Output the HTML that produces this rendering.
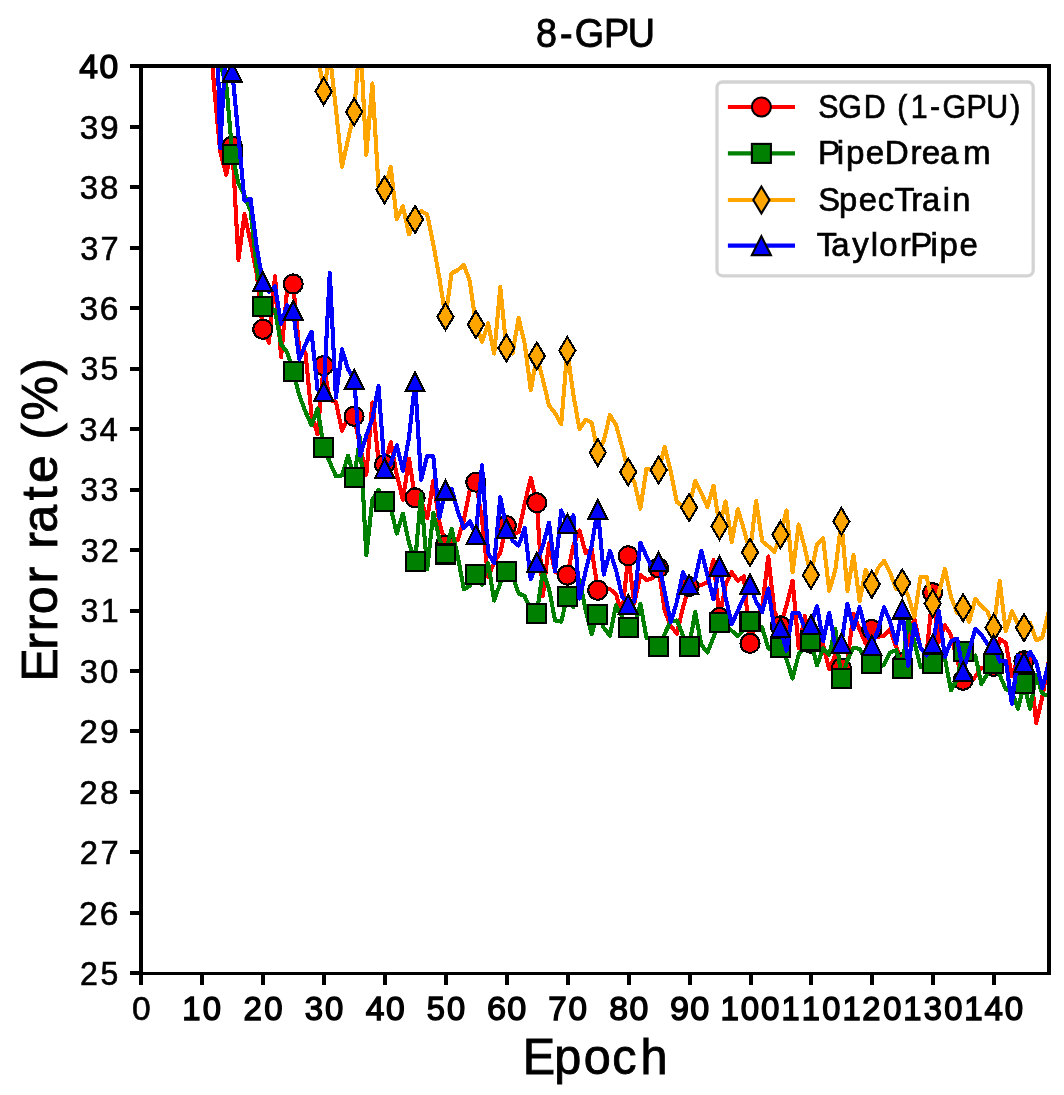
<!DOCTYPE html>
<html><head><meta charset="utf-8"><title>8-GPU</title>
<style>html,body{margin:0;padding:0;background:#fff}svg{display:block;will-change:transform}</style></head>
<body>
<svg width="1064" height="1095" viewBox="0 0 1064 1095">
<rect width="1064" height="1095" fill="#fff"/>
<defs><clipPath id="ax"><rect x="141.1" y="66.3" width="907.9" height="907.0"/></clipPath></defs>
<g clip-path="url(#ax)" shape-rendering="crispEdges">
<polyline points="208.0,5.6 214.1,86.5 220.2,151.8 226.3,174.7 232.3,146.3 238.4,259.9 244.5,214.0 250.6,242.4 256.7,273.2 262.8,329.3 268.9,342.6 275.0,276.2 281.1,357.1 287.2,288.3 293.2,284.0 299.3,350.5 305.4,352.3 311.5,414.5 317.6,434.4 323.7,365.6 329.8,400.0 335.9,401.8 342.0,430.8 348.1,418.1 354.1,416.3 360.2,447.1 366.3,474.9 372.4,402.4 378.5,460.4 384.6,464.6 390.7,442.3 396.8,474.9 402.9,499.7 409.0,458.6 415.1,497.9 421.1,499.7 427.2,518.4 433.3,480.9 439.4,522.0 445.5,545.0 451.6,541.3 457.7,540.1 463.8,520.2 469.9,490.0 475.9,482.2 482.0,519.0 488.1,577.0 494.2,562.5 500.3,552.8 506.4,525.6 512.5,534.1 518.6,532.3 524.7,503.9 530.8,477.9 536.8,502.7 542.9,596.3 549.0,543.2 555.1,571.5 561.2,575.2 567.3,575.2 573.4,545.6 579.5,530.5 585.6,552.8 591.7,549.2 597.8,590.3 603.8,590.3 609.9,589.1 616.0,593.9 622.1,615.6 628.2,555.8 634.3,603.6 640.4,574.6 646.5,580.0 652.6,578.2 658.6,567.9 664.7,610.8 670.8,625.9 676.9,633.8 683.0,607.2 689.1,586.6 695.2,587.3 701.3,584.8 707.4,582.4 713.5,560.1 719.5,617.5 725.6,584.8 731.7,572.2 737.8,580.6 743.9,576.4 750.0,643.4 756.1,620.5 762.2,607.2 768.3,556.4 774.4,610.8 780.4,625.9 786.5,605.4 792.6,580.6 798.7,648.3 804.8,616.2 810.9,643.4 817.0,642.8 823.1,644.6 829.2,669.4 835.3,654.9 841.4,668.2 847.4,660.3 853.5,613.8 859.6,629.5 865.7,643.4 871.8,629.5 877.9,636.8 884.0,635.6 890.1,629.5 896.2,647.0 902.2,662.8 908.3,639.8 914.4,618.7 920.5,647.7 926.6,653.7 932.7,592.7 938.8,642.2 944.9,625.3 951.0,635.0 957.1,659.7 963.1,680.3 969.2,684.5 975.3,676.6 981.4,667.6 987.5,667.6 993.6,666.4 999.7,639.2 1005.8,642.8 1011.9,676.0 1018.0,657.9 1024.0,660.9 1030.1,664.0 1036.2,723.2 1042.3,697.2 1048.4,662.1" fill="none" stroke="#ff0000" stroke-width="4.1" stroke-linejoin="round" stroke-linecap="butt"/>
<circle cx="232.3" cy="146.3" r="9.50" fill="#ff0000" stroke="#000" stroke-width="2.1"/>
<circle cx="262.8" cy="329.3" r="9.50" fill="#ff0000" stroke="#000" stroke-width="2.1"/>
<circle cx="293.2" cy="284.0" r="9.50" fill="#ff0000" stroke="#000" stroke-width="2.1"/>
<circle cx="323.7" cy="365.6" r="9.50" fill="#ff0000" stroke="#000" stroke-width="2.1"/>
<circle cx="354.1" cy="416.3" r="9.50" fill="#ff0000" stroke="#000" stroke-width="2.1"/>
<circle cx="384.6" cy="464.6" r="9.50" fill="#ff0000" stroke="#000" stroke-width="2.1"/>
<circle cx="415.1" cy="497.9" r="9.50" fill="#ff0000" stroke="#000" stroke-width="2.1"/>
<circle cx="445.5" cy="545.0" r="9.50" fill="#ff0000" stroke="#000" stroke-width="2.1"/>
<circle cx="475.9" cy="482.2" r="9.50" fill="#ff0000" stroke="#000" stroke-width="2.1"/>
<circle cx="506.4" cy="525.6" r="9.50" fill="#ff0000" stroke="#000" stroke-width="2.1"/>
<circle cx="536.8" cy="502.7" r="9.50" fill="#ff0000" stroke="#000" stroke-width="2.1"/>
<circle cx="567.3" cy="575.2" r="9.50" fill="#ff0000" stroke="#000" stroke-width="2.1"/>
<circle cx="597.8" cy="590.3" r="9.50" fill="#ff0000" stroke="#000" stroke-width="2.1"/>
<circle cx="628.2" cy="555.8" r="9.50" fill="#ff0000" stroke="#000" stroke-width="2.1"/>
<circle cx="658.6" cy="567.9" r="9.50" fill="#ff0000" stroke="#000" stroke-width="2.1"/>
<circle cx="689.1" cy="586.6" r="9.50" fill="#ff0000" stroke="#000" stroke-width="2.1"/>
<circle cx="719.5" cy="617.5" r="9.50" fill="#ff0000" stroke="#000" stroke-width="2.1"/>
<circle cx="750.0" cy="643.4" r="9.50" fill="#ff0000" stroke="#000" stroke-width="2.1"/>
<circle cx="780.4" cy="625.9" r="9.50" fill="#ff0000" stroke="#000" stroke-width="2.1"/>
<circle cx="810.9" cy="643.4" r="9.50" fill="#ff0000" stroke="#000" stroke-width="2.1"/>
<circle cx="841.4" cy="668.2" r="9.50" fill="#ff0000" stroke="#000" stroke-width="2.1"/>
<circle cx="871.8" cy="629.5" r="9.50" fill="#ff0000" stroke="#000" stroke-width="2.1"/>
<circle cx="902.2" cy="662.8" r="9.50" fill="#ff0000" stroke="#000" stroke-width="2.1"/>
<circle cx="932.7" cy="592.7" r="9.50" fill="#ff0000" stroke="#000" stroke-width="2.1"/>
<circle cx="963.1" cy="680.3" r="9.50" fill="#ff0000" stroke="#000" stroke-width="2.1"/>
<circle cx="993.6" cy="666.4" r="9.50" fill="#ff0000" stroke="#000" stroke-width="2.1"/>
<circle cx="1024.0" cy="660.9" r="9.50" fill="#ff0000" stroke="#000" stroke-width="2.1"/>
<polyline points="214.1,-54.8 220.2,64.2 226.3,84.7 232.3,154.2 238.4,183.2 244.5,195.3 250.6,211.0 256.7,267.7 262.8,306.4 268.9,307.6 275.0,310.0 281.1,344.4 287.2,352.3 293.2,371.6 299.3,395.2 305.4,411.5 311.5,425.4 317.6,408.5 323.7,447.1 329.8,462.2 335.9,476.1 342.0,475.5 348.1,455.6 354.1,477.9 360.2,437.5 366.3,555.2 372.4,499.7 378.5,490.0 384.6,501.5 390.7,508.1 396.8,533.5 402.9,513.6 409.0,543.2 415.1,561.9 421.1,494.2 427.2,569.1 433.3,513.0 439.4,538.9 445.5,554.0 451.6,528.7 457.7,555.8 463.8,589.1 469.9,586.0 475.9,574.6 482.0,584.8 488.1,563.1 494.2,600.5 500.3,583.0 506.4,571.5 512.5,575.2 518.6,593.3 524.7,596.3 530.8,609.6 536.8,613.2 542.9,571.5 549.0,588.5 555.1,620.5 561.2,621.7 567.3,596.3 573.4,607.2 579.5,579.4 585.6,609.6 591.7,633.8 597.8,614.4 603.8,627.7 609.9,635.6 616.0,605.4 622.1,616.8 628.2,627.7 634.3,629.5 640.4,603.6 646.5,638.0 652.6,639.2 658.6,646.4 664.7,633.8 670.8,621.1 676.9,620.5 683.0,635.6 689.1,646.4 695.2,612.0 701.3,644.6 707.4,652.5 713.5,637.4 719.5,622.3 725.6,625.9 731.7,630.7 737.8,636.2 743.9,630.1 750.0,621.1 756.1,624.1 762.2,627.7 768.3,648.3 774.4,650.7 780.4,647.7 786.5,659.7 792.6,678.5 798.7,654.3 804.8,646.4 810.9,641.0 817.0,665.2 823.1,648.3 829.2,654.9 835.3,628.9 841.4,678.5 847.4,660.3 853.5,647.7 859.6,648.9 865.7,660.3 871.8,663.4 877.9,668.2 884.0,664.6 890.1,652.5 896.2,650.1 902.2,668.2 908.3,618.7 914.4,642.2 920.5,667.0 926.6,668.8 932.7,663.4 938.8,657.9 944.9,658.5 951.0,690.5 957.1,679.1 963.1,651.3 969.2,657.9 975.3,655.5 981.4,683.9 987.5,673.6 993.6,663.4 999.7,674.8 1005.8,689.3 1011.9,691.7 1018.0,708.7 1024.0,683.9 1030.1,708.7 1036.2,674.8 1042.3,693.6 1048.4,696.0" fill="none" stroke="#008000" stroke-width="4.1" stroke-linejoin="round" stroke-linecap="butt"/>
<rect x="222.8" y="144.7" width="19.0" height="19.0" fill="#008000" stroke="#000" stroke-width="2.1"/>
<rect x="253.3" y="296.9" width="19.0" height="19.0" fill="#008000" stroke="#000" stroke-width="2.1"/>
<rect x="283.8" y="362.1" width="19.0" height="19.0" fill="#008000" stroke="#000" stroke-width="2.1"/>
<rect x="314.2" y="437.6" width="19.0" height="19.0" fill="#008000" stroke="#000" stroke-width="2.1"/>
<rect x="344.6" y="468.4" width="19.0" height="19.0" fill="#008000" stroke="#000" stroke-width="2.1"/>
<rect x="375.1" y="492.0" width="19.0" height="19.0" fill="#008000" stroke="#000" stroke-width="2.1"/>
<rect x="405.6" y="552.4" width="19.0" height="19.0" fill="#008000" stroke="#000" stroke-width="2.1"/>
<rect x="436.0" y="544.5" width="19.0" height="19.0" fill="#008000" stroke="#000" stroke-width="2.1"/>
<rect x="466.4" y="565.1" width="19.0" height="19.0" fill="#008000" stroke="#000" stroke-width="2.1"/>
<rect x="496.9" y="562.0" width="19.0" height="19.0" fill="#008000" stroke="#000" stroke-width="2.1"/>
<rect x="527.3" y="603.7" width="19.0" height="19.0" fill="#008000" stroke="#000" stroke-width="2.1"/>
<rect x="557.8" y="586.8" width="19.0" height="19.0" fill="#008000" stroke="#000" stroke-width="2.1"/>
<rect x="588.2" y="604.9" width="19.0" height="19.0" fill="#008000" stroke="#000" stroke-width="2.1"/>
<rect x="618.7" y="618.2" width="19.0" height="19.0" fill="#008000" stroke="#000" stroke-width="2.1"/>
<rect x="649.1" y="636.9" width="19.0" height="19.0" fill="#008000" stroke="#000" stroke-width="2.1"/>
<rect x="679.6" y="636.9" width="19.0" height="19.0" fill="#008000" stroke="#000" stroke-width="2.1"/>
<rect x="710.0" y="612.8" width="19.0" height="19.0" fill="#008000" stroke="#000" stroke-width="2.1"/>
<rect x="740.5" y="611.6" width="19.0" height="19.0" fill="#008000" stroke="#000" stroke-width="2.1"/>
<rect x="770.9" y="638.2" width="19.0" height="19.0" fill="#008000" stroke="#000" stroke-width="2.1"/>
<rect x="801.4" y="631.5" width="19.0" height="19.0" fill="#008000" stroke="#000" stroke-width="2.1"/>
<rect x="831.9" y="669.0" width="19.0" height="19.0" fill="#008000" stroke="#000" stroke-width="2.1"/>
<rect x="862.3" y="653.9" width="19.0" height="19.0" fill="#008000" stroke="#000" stroke-width="2.1"/>
<rect x="892.8" y="658.7" width="19.0" height="19.0" fill="#008000" stroke="#000" stroke-width="2.1"/>
<rect x="923.2" y="653.9" width="19.0" height="19.0" fill="#008000" stroke="#000" stroke-width="2.1"/>
<rect x="953.6" y="641.8" width="19.0" height="19.0" fill="#008000" stroke="#000" stroke-width="2.1"/>
<rect x="984.1" y="653.9" width="19.0" height="19.0" fill="#008000" stroke="#000" stroke-width="2.1"/>
<rect x="1014.5" y="674.4" width="19.0" height="19.0" fill="#008000" stroke="#000" stroke-width="2.1"/>
<polyline points="317.6,53.9 323.7,91.4 329.8,53.9 335.9,108.9 342.0,166.9 348.1,139.1 354.1,111.9 360.2,35.8 366.3,154.8 372.4,83.5 378.5,186.8 384.6,189.8 390.7,166.9 396.8,219.4 402.9,206.1 409.0,234.5 415.1,219.4 421.1,211.0 427.2,214.6 433.3,244.2 439.4,278.0 445.5,316.7 451.6,273.2 457.7,270.2 463.8,264.7 469.9,281.6 475.9,324.5 482.0,342.0 488.1,323.3 494.2,353.5 500.3,287.1 506.4,348.1 512.5,353.5 518.6,317.9 524.7,343.8 530.8,390.3 536.8,355.9 542.9,379.5 549.0,405.4 555.1,413.3 561.2,424.2 567.3,350.5 573.4,395.2 579.5,429.0 585.6,419.9 591.7,422.4 597.8,452.6 603.8,440.5 609.9,415.1 616.0,424.8 622.1,447.1 628.2,471.9 634.3,481.6 640.4,508.7 646.5,468.9 652.6,470.1 658.6,470.1 664.7,447.1 670.8,471.9 676.9,502.1 683.0,506.3 689.1,507.5 695.2,480.9 701.3,493.0 707.4,506.9 713.5,485.8 719.5,526.2 725.6,501.5 731.7,542.0 737.8,509.3 743.9,529.3 750.0,552.2 756.1,500.9 762.2,541.3 768.3,546.2 774.4,552.2 780.4,534.7 786.5,510.5 792.6,572.2 798.7,524.4 804.8,548.0 810.9,575.2 817.0,544.4 823.1,538.3 829.2,590.9 835.3,570.3 841.4,521.4 847.4,590.9 853.5,555.2 859.6,601.1 865.7,569.7 871.8,584.2 877.9,568.5 884.0,560.7 890.1,572.8 896.2,589.1 902.2,583.0 908.3,596.3 914.4,616.8 920.5,577.0 926.6,577.0 932.7,603.6 938.8,592.7 944.9,569.1 951.0,596.9 957.1,612.6 963.1,607.8 969.2,621.7 975.3,598.7 981.4,606.0 987.5,611.4 993.6,627.7 999.7,581.2 1005.8,631.3 1011.9,611.4 1018.0,624.1 1024.0,627.7 1030.1,622.9 1036.2,640.4 1042.3,637.4 1048.4,612.6" fill="none" stroke="#ffa500" stroke-width="4.1" stroke-linejoin="round" stroke-linecap="butt"/>
<polygon points="323.7,77.9 331.8,91.4 323.7,104.8 315.6,91.4" fill="#ffa500" stroke="#000" stroke-width="2.1" stroke-linejoin="miter"/>
<polygon points="354.1,98.5 362.2,111.9 354.1,125.3 346.1,111.9" fill="#ffa500" stroke="#000" stroke-width="2.1" stroke-linejoin="miter"/>
<polygon points="384.6,176.4 392.7,189.8 384.6,203.3 376.5,189.8" fill="#ffa500" stroke="#000" stroke-width="2.1" stroke-linejoin="miter"/>
<polygon points="415.1,206.0 423.1,219.4 415.1,232.9 407.0,219.4" fill="#ffa500" stroke="#000" stroke-width="2.1" stroke-linejoin="miter"/>
<polygon points="445.5,303.2 453.6,316.7 445.5,330.1 437.4,316.7" fill="#ffa500" stroke="#000" stroke-width="2.1" stroke-linejoin="miter"/>
<polygon points="475.9,311.1 484.0,324.5 475.9,337.9 467.9,324.5" fill="#ffa500" stroke="#000" stroke-width="2.1" stroke-linejoin="miter"/>
<polygon points="506.4,334.6 514.5,348.1 506.4,361.5 498.3,348.1" fill="#ffa500" stroke="#000" stroke-width="2.1" stroke-linejoin="miter"/>
<polygon points="536.8,342.5 544.9,355.9 536.8,369.4 528.8,355.9" fill="#ffa500" stroke="#000" stroke-width="2.1" stroke-linejoin="miter"/>
<polygon points="567.3,337.0 575.4,350.5 567.3,363.9 559.2,350.5" fill="#ffa500" stroke="#000" stroke-width="2.1" stroke-linejoin="miter"/>
<polygon points="597.8,439.1 605.8,452.6 597.8,466.0 589.7,452.6" fill="#ffa500" stroke="#000" stroke-width="2.1" stroke-linejoin="miter"/>
<polygon points="628.2,458.5 636.3,471.9 628.2,485.3 620.1,471.9" fill="#ffa500" stroke="#000" stroke-width="2.1" stroke-linejoin="miter"/>
<polygon points="658.6,456.6 666.7,470.1 658.6,483.5 650.6,470.1" fill="#ffa500" stroke="#000" stroke-width="2.1" stroke-linejoin="miter"/>
<polygon points="689.1,494.1 697.2,507.5 689.1,521.0 681.0,507.5" fill="#ffa500" stroke="#000" stroke-width="2.1" stroke-linejoin="miter"/>
<polygon points="719.5,512.8 727.6,526.2 719.5,539.7 711.5,526.2" fill="#ffa500" stroke="#000" stroke-width="2.1" stroke-linejoin="miter"/>
<polygon points="750.0,538.8 758.1,552.2 750.0,565.7 741.9,552.2" fill="#ffa500" stroke="#000" stroke-width="2.1" stroke-linejoin="miter"/>
<polygon points="780.4,521.3 788.5,534.7 780.4,548.1 772.4,534.7" fill="#ffa500" stroke="#000" stroke-width="2.1" stroke-linejoin="miter"/>
<polygon points="810.9,561.7 819.0,575.2 810.9,588.6 802.8,575.2" fill="#ffa500" stroke="#000" stroke-width="2.1" stroke-linejoin="miter"/>
<polygon points="841.4,508.0 849.4,521.4 841.4,534.9 833.3,521.4" fill="#ffa500" stroke="#000" stroke-width="2.1" stroke-linejoin="miter"/>
<polygon points="871.8,570.8 879.9,584.2 871.8,597.7 863.7,584.2" fill="#ffa500" stroke="#000" stroke-width="2.1" stroke-linejoin="miter"/>
<polygon points="902.2,569.6 910.3,583.0 902.2,596.5 894.2,583.0" fill="#ffa500" stroke="#000" stroke-width="2.1" stroke-linejoin="miter"/>
<polygon points="932.7,590.1 940.8,603.6 932.7,617.0 924.6,603.6" fill="#ffa500" stroke="#000" stroke-width="2.1" stroke-linejoin="miter"/>
<polygon points="963.1,594.4 971.2,607.8 963.1,621.2 955.1,607.8" fill="#ffa500" stroke="#000" stroke-width="2.1" stroke-linejoin="miter"/>
<polygon points="993.6,614.3 1001.7,627.7 993.6,641.2 985.5,627.7" fill="#ffa500" stroke="#000" stroke-width="2.1" stroke-linejoin="miter"/>
<polygon points="1024.0,614.3 1032.1,627.7 1024.0,641.2 1016.0,627.7" fill="#ffa500" stroke="#000" stroke-width="2.1" stroke-linejoin="miter"/>
<polyline points="214.1,-85.0 220.2,148.1 226.3,38.8 232.3,72.0 238.4,135.5 244.5,200.7 250.6,198.9 256.7,247.2 262.8,281.6 268.9,291.9 275.0,286.5 281.1,323.9 287.2,305.2 293.2,310.6 299.3,359.5 305.4,344.4 311.5,331.8 317.6,389.7 323.7,391.6 329.8,272.6 335.9,397.6 342.0,349.3 348.1,369.2 354.1,379.5 360.2,455.6 366.3,435.6 372.4,418.7 378.5,386.1 384.6,468.3 390.7,464.0 396.8,445.3 402.9,470.7 409.0,437.5 415.1,381.9 421.1,479.7 427.2,456.2 433.3,456.2 439.4,517.8 445.5,490.0 451.6,488.8 457.7,511.1 463.8,528.1 469.9,521.4 475.9,534.7 482.0,465.2 488.1,552.8 494.2,563.1 500.3,497.3 506.4,528.7 512.5,540.7 518.6,545.6 524.7,528.1 530.8,579.4 536.8,562.5 542.9,545.6 549.0,522.6 555.1,571.5 561.2,510.5 567.3,523.8 573.4,515.4 579.5,598.7 585.6,571.5 591.7,545.6 597.8,509.3 603.8,574.6 609.9,551.0 616.0,569.7 622.1,596.3 628.2,604.2 634.3,601.7 640.4,542.6 646.5,556.4 652.6,569.7 658.6,561.9 664.7,592.1 670.8,622.3 676.9,601.7 683.0,572.2 689.1,584.8 695.2,578.8 701.3,551.0 707.4,575.2 713.5,599.3 719.5,566.1 725.6,597.5 731.7,624.1 737.8,610.8 743.9,597.5 750.0,584.2 756.1,601.7 762.2,612.0 768.3,588.5 774.4,629.5 780.4,627.7 786.5,650.7 792.6,612.6 798.7,612.6 804.8,627.7 810.9,624.7 817.0,606.0 823.1,641.0 829.2,612.6 835.3,645.8 841.4,643.4 847.4,603.6 853.5,628.9 859.6,607.2 865.7,630.7 871.8,645.2 877.9,630.7 884.0,607.2 890.1,621.7 896.2,643.4 902.2,609.0 908.3,665.8 914.4,624.1 920.5,647.7 926.6,655.5 932.7,644.0 938.8,610.8 944.9,656.7 951.0,641.0 957.1,638.6 963.1,671.2 969.2,650.7 975.3,628.9 981.4,635.0 987.5,644.0 993.6,644.6 999.7,661.5 1005.8,660.9 1011.9,703.8 1018.0,655.5 1024.0,662.1 1030.1,651.9 1036.2,662.1 1042.3,688.1 1048.4,663.4" fill="none" stroke="#0000ff" stroke-width="4.1" stroke-linejoin="round" stroke-linecap="butt"/>
<polygon points="232.3,62.5 241.8,81.5 222.8,81.5" fill="#0000ff" stroke="#000" stroke-width="2.1" stroke-linejoin="miter"/>
<polygon points="262.8,272.1 272.3,291.1 253.3,291.1" fill="#0000ff" stroke="#000" stroke-width="2.1" stroke-linejoin="miter"/>
<polygon points="293.2,301.1 302.8,320.1 283.8,320.1" fill="#0000ff" stroke="#000" stroke-width="2.1" stroke-linejoin="miter"/>
<polygon points="323.7,382.1 333.2,401.1 314.2,401.1" fill="#0000ff" stroke="#000" stroke-width="2.1" stroke-linejoin="miter"/>
<polygon points="354.1,370.0 363.6,389.0 344.6,389.0" fill="#0000ff" stroke="#000" stroke-width="2.1" stroke-linejoin="miter"/>
<polygon points="384.6,458.8 394.1,477.8 375.1,477.8" fill="#0000ff" stroke="#000" stroke-width="2.1" stroke-linejoin="miter"/>
<polygon points="415.1,372.4 424.6,391.4 405.6,391.4" fill="#0000ff" stroke="#000" stroke-width="2.1" stroke-linejoin="miter"/>
<polygon points="445.5,480.5 455.0,499.5 436.0,499.5" fill="#0000ff" stroke="#000" stroke-width="2.1" stroke-linejoin="miter"/>
<polygon points="475.9,525.2 485.4,544.2 466.4,544.2" fill="#0000ff" stroke="#000" stroke-width="2.1" stroke-linejoin="miter"/>
<polygon points="506.4,519.2 515.9,538.2 496.9,538.2" fill="#0000ff" stroke="#000" stroke-width="2.1" stroke-linejoin="miter"/>
<polygon points="536.8,553.0 546.3,572.0 527.3,572.0" fill="#0000ff" stroke="#000" stroke-width="2.1" stroke-linejoin="miter"/>
<polygon points="567.3,514.3 576.8,533.3 557.8,533.3" fill="#0000ff" stroke="#000" stroke-width="2.1" stroke-linejoin="miter"/>
<polygon points="597.8,499.8 607.2,518.8 588.2,518.8" fill="#0000ff" stroke="#000" stroke-width="2.1" stroke-linejoin="miter"/>
<polygon points="628.2,594.7 637.7,613.7 618.7,613.7" fill="#0000ff" stroke="#000" stroke-width="2.1" stroke-linejoin="miter"/>
<polygon points="658.6,552.4 668.1,571.4 649.1,571.4" fill="#0000ff" stroke="#000" stroke-width="2.1" stroke-linejoin="miter"/>
<polygon points="689.1,575.3 698.6,594.3 679.6,594.3" fill="#0000ff" stroke="#000" stroke-width="2.1" stroke-linejoin="miter"/>
<polygon points="719.5,556.6 729.0,575.6 710.0,575.6" fill="#0000ff" stroke="#000" stroke-width="2.1" stroke-linejoin="miter"/>
<polygon points="750.0,574.7 759.5,593.7 740.5,593.7" fill="#0000ff" stroke="#000" stroke-width="2.1" stroke-linejoin="miter"/>
<polygon points="780.4,618.2 789.9,637.2 770.9,637.2" fill="#0000ff" stroke="#000" stroke-width="2.1" stroke-linejoin="miter"/>
<polygon points="810.9,615.2 820.4,634.2 801.4,634.2" fill="#0000ff" stroke="#000" stroke-width="2.1" stroke-linejoin="miter"/>
<polygon points="841.4,633.9 850.9,652.9 831.9,652.9" fill="#0000ff" stroke="#000" stroke-width="2.1" stroke-linejoin="miter"/>
<polygon points="871.8,635.7 881.3,654.7 862.3,654.7" fill="#0000ff" stroke="#000" stroke-width="2.1" stroke-linejoin="miter"/>
<polygon points="902.2,599.5 911.8,618.5 892.8,618.5" fill="#0000ff" stroke="#000" stroke-width="2.1" stroke-linejoin="miter"/>
<polygon points="932.7,634.5 942.2,653.5 923.2,653.5" fill="#0000ff" stroke="#000" stroke-width="2.1" stroke-linejoin="miter"/>
<polygon points="963.1,661.7 972.6,680.7 953.6,680.7" fill="#0000ff" stroke="#000" stroke-width="2.1" stroke-linejoin="miter"/>
<polygon points="993.6,635.1 1003.1,654.1 984.1,654.1" fill="#0000ff" stroke="#000" stroke-width="2.1" stroke-linejoin="miter"/>
<polygon points="1024.0,652.6 1033.5,671.6 1014.5,671.6" fill="#0000ff" stroke="#000" stroke-width="2.1" stroke-linejoin="miter"/>
</g>
<g shape-rendering="crispEdges">
<line x1="141.1" y1="973.3" x2="141.1" y2="985.0" stroke="#000" stroke-width="4.0"/>
<line x1="202.0" y1="973.3" x2="202.0" y2="985.0" stroke="#000" stroke-width="4.0"/>
<line x1="263.0" y1="973.3" x2="263.0" y2="985.0" stroke="#000" stroke-width="4.0"/>
<line x1="323.9" y1="973.3" x2="323.9" y2="985.0" stroke="#000" stroke-width="4.0"/>
<line x1="384.8" y1="973.3" x2="384.8" y2="985.0" stroke="#000" stroke-width="4.0"/>
<line x1="445.8" y1="973.3" x2="445.8" y2="985.0" stroke="#000" stroke-width="4.0"/>
<line x1="506.7" y1="973.3" x2="506.7" y2="985.0" stroke="#000" stroke-width="4.0"/>
<line x1="567.7" y1="973.3" x2="567.7" y2="985.0" stroke="#000" stroke-width="4.0"/>
<line x1="628.6" y1="973.3" x2="628.6" y2="985.0" stroke="#000" stroke-width="4.0"/>
<line x1="689.5" y1="973.3" x2="689.5" y2="985.0" stroke="#000" stroke-width="4.0"/>
<line x1="750.5" y1="973.3" x2="750.5" y2="985.0" stroke="#000" stroke-width="4.0"/>
<line x1="811.4" y1="973.3" x2="811.4" y2="985.0" stroke="#000" stroke-width="4.0"/>
<line x1="872.3" y1="973.3" x2="872.3" y2="985.0" stroke="#000" stroke-width="4.0"/>
<line x1="933.3" y1="973.3" x2="933.3" y2="985.0" stroke="#000" stroke-width="4.0"/>
<line x1="994.2" y1="973.3" x2="994.2" y2="985.0" stroke="#000" stroke-width="4.0"/>
<line x1="130.2" y1="973.3" x2="141.1" y2="973.3" stroke="#000" stroke-width="4.0"/>
<line x1="130.2" y1="912.8" x2="141.1" y2="912.8" stroke="#000" stroke-width="4.0"/>
<line x1="130.2" y1="852.4" x2="141.1" y2="852.4" stroke="#000" stroke-width="4.0"/>
<line x1="130.2" y1="791.9" x2="141.1" y2="791.9" stroke="#000" stroke-width="4.0"/>
<line x1="130.2" y1="731.4" x2="141.1" y2="731.4" stroke="#000" stroke-width="4.0"/>
<line x1="130.2" y1="671.0" x2="141.1" y2="671.0" stroke="#000" stroke-width="4.0"/>
<line x1="130.2" y1="610.5" x2="141.1" y2="610.5" stroke="#000" stroke-width="4.0"/>
<line x1="130.2" y1="550.0" x2="141.1" y2="550.0" stroke="#000" stroke-width="4.0"/>
<line x1="130.2" y1="489.6" x2="141.1" y2="489.6" stroke="#000" stroke-width="4.0"/>
<line x1="130.2" y1="429.1" x2="141.1" y2="429.1" stroke="#000" stroke-width="4.0"/>
<line x1="130.2" y1="368.6" x2="141.1" y2="368.6" stroke="#000" stroke-width="4.0"/>
<line x1="130.2" y1="308.2" x2="141.1" y2="308.2" stroke="#000" stroke-width="4.0"/>
<line x1="130.2" y1="247.7" x2="141.1" y2="247.7" stroke="#000" stroke-width="4.0"/>
<line x1="130.2" y1="187.2" x2="141.1" y2="187.2" stroke="#000" stroke-width="4.0"/>
<line x1="130.2" y1="126.8" x2="141.1" y2="126.8" stroke="#000" stroke-width="4.0"/>
<line x1="130.2" y1="66.3" x2="141.1" y2="66.3" stroke="#000" stroke-width="4.0"/>
</g>
<g shape-rendering="crispEdges" fill="#000"><rect x="139" y="64" width="912" height="4"/><rect x="139" y="972" width="912" height="3"/><rect x="139" y="64" width="4" height="911"/><rect x="1047" y="64" width="4" height="911"/></g>
<text transform="scale(0.9948,1)" x="132.64" y="1020.2" font-size="33.80" font-family="Liberation Sans, sans-serif" fill="#000" stroke="#000" stroke-width="0.60">0</text>
<text transform="scale(0.9736,1)" x="187.18 208.19" y="1020.2" font-size="33.80" font-family="Liberation Sans, sans-serif" fill="#000" stroke="#000" stroke-width="1.40">10</text>
<text transform="scale(0.9773,1)" x="249.10 270.29" y="1020.2" font-size="33.80" font-family="Liberation Sans, sans-serif" fill="#000" stroke="#000" stroke-width="1.40">20</text>
<text transform="scale(0.9752,1)" x="312.59 333.35" y="1020.2" font-size="33.80" font-family="Liberation Sans, sans-serif" fill="#000" stroke="#000" stroke-width="1.40">30</text>
<text transform="scale(0.9949,1)" x="367.69 388.10" y="1020.2" font-size="33.80" font-family="Liberation Sans, sans-serif" fill="#000" stroke="#000" stroke-width="1.40">40</text>
<text transform="scale(0.9670,1)" x="441.24 462.36" y="1020.2" font-size="33.80" font-family="Liberation Sans, sans-serif" fill="#000" stroke="#000" stroke-width="1.40">50</text>
<text transform="scale(1.0119,1)" x="481.32 501.38" y="1020.2" font-size="33.80" font-family="Liberation Sans, sans-serif" fill="#000" stroke="#000" stroke-width="1.40">60</text>
<text transform="scale(0.9843,1)" x="556.99 577.67" y="1020.2" font-size="33.80" font-family="Liberation Sans, sans-serif" fill="#000" stroke="#000" stroke-width="1.40">70</text>
<text transform="scale(1.0002,1)" x="609.06 629.36" y="1020.2" font-size="33.80" font-family="Liberation Sans, sans-serif" fill="#000" stroke="#000" stroke-width="1.40">80</text>
<text transform="scale(1.0109,1)" x="662.67 682.84" y="1020.2" font-size="33.80" font-family="Liberation Sans, sans-serif" fill="#000" stroke="#000" stroke-width="1.40">90</text>
<text transform="scale(0.9809,1)" x="734.50 755.13 775.94" y="1020.2" font-size="33.80" font-family="Liberation Sans, sans-serif" fill="#000" stroke="#000" stroke-width="1.40">100</text>
<text transform="scale(0.9661,1)" x="808.91 829.80 851.21" y="1020.2" font-size="33.80" font-family="Liberation Sans, sans-serif" fill="#000" stroke="#000" stroke-width="1.40">110</text>
<text transform="scale(0.9687,1)" x="869.61 890.15 911.75" y="1020.2" font-size="33.80" font-family="Liberation Sans, sans-serif" fill="#000" stroke="#000" stroke-width="1.40">120</text>
<text transform="scale(0.9674,1)" x="933.80 954.86 976.02" y="1020.2" font-size="33.80" font-family="Liberation Sans, sans-serif" fill="#000" stroke="#000" stroke-width="1.40">130</text>
<text transform="scale(0.9812,1)" x="982.68 1003.30 1024.10" y="1020.2" font-size="33.80" font-family="Liberation Sans, sans-serif" fill="#000" stroke="#000" stroke-width="1.40">140</text>
<text transform="scale(0.9487,1)" x="84.24 105.95" y="985.2" font-size="33.80" font-family="Liberation Sans, sans-serif" fill="#000" stroke="#000" stroke-width="0.60">25</text>
<text transform="scale(0.9945,1)" x="79.50 100.33" y="924.7" font-size="33.80" font-family="Liberation Sans, sans-serif" fill="#000" stroke="#000" stroke-width="0.60">26</text>
<text transform="scale(0.9660,1)" x="82.64 104.02" y="864.3" font-size="33.80" font-family="Liberation Sans, sans-serif" fill="#000" stroke="#000" stroke-width="0.60">27</text>
<text transform="scale(0.9826,1)" x="80.66 101.74" y="803.8" font-size="33.80" font-family="Liberation Sans, sans-serif" fill="#000" stroke="#000" stroke-width="0.60">28</text>
<text transform="scale(0.9935,1)" x="79.82 100.57" y="743.3" font-size="33.80" font-family="Liberation Sans, sans-serif" fill="#000" stroke="#000" stroke-width="0.60">29</text>
<text transform="scale(0.9752,1)" x="81.73 102.50" y="682.9" font-size="33.80" font-family="Liberation Sans, sans-serif" fill="#000" stroke="#000" stroke-width="0.60">30</text>
<text transform="scale(0.9529,1)" x="84.54 105.63" y="622.4" font-size="33.80" font-family="Liberation Sans, sans-serif" fill="#000" stroke="#000" stroke-width="0.60">31</text>
<text transform="scale(0.9571,1)" x="84.42 105.14" y="561.9" font-size="33.80" font-family="Liberation Sans, sans-serif" fill="#000" stroke="#000" stroke-width="0.60">32</text>
<text transform="scale(0.9554,1)" x="83.91 105.15" y="501.5" font-size="33.80" font-family="Liberation Sans, sans-serif" fill="#000" stroke="#000" stroke-width="0.60">33</text>
<text transform="scale(0.9758,1)" x="81.34 102.10" y="441.0" font-size="33.80" font-family="Liberation Sans, sans-serif" fill="#000" stroke="#000" stroke-width="0.60">34</text>
<text transform="scale(0.9471,1)" x="84.89 106.15" y="380.5" font-size="33.80" font-family="Liberation Sans, sans-serif" fill="#000" stroke="#000" stroke-width="0.60">35</text>
<text transform="scale(0.9920,1)" x="80.21 100.63" y="320.1" font-size="33.80" font-family="Liberation Sans, sans-serif" fill="#000" stroke="#000" stroke-width="0.60">36</text>
<text transform="scale(0.9641,1)" x="83.32 104.26" y="259.6" font-size="33.80" font-family="Liberation Sans, sans-serif" fill="#000" stroke="#000" stroke-width="0.60">37</text>
<text transform="scale(0.9804,1)" x="81.35 102.01" y="199.1" font-size="33.80" font-family="Liberation Sans, sans-serif" fill="#000" stroke="#000" stroke-width="0.60">38</text>
<text transform="scale(0.9910,1)" x="80.53 100.86" y="138.7" font-size="33.80" font-family="Liberation Sans, sans-serif" fill="#000" stroke="#000" stroke-width="0.60">39</text>
<text transform="scale(0.9949,1)" x="79.72 100.12" y="78.2" font-size="33.80" font-family="Liberation Sans, sans-serif" fill="#000" stroke="#000" stroke-width="1.40">40</text>
<text transform="scale(0.9294,1)" x="576.81 602.68 618.53 649.93 675.57" y="46.6" font-size="40.58" font-family="Liberation Sans, sans-serif" fill="#000" stroke="#000" stroke-width="0.90">8-GPU</text>
<text transform="scale(0.9579,1)" x="545.61 578.52 609.33 639.18 668.68" y="1074.2" font-size="50.70" font-family="Liberation Sans, sans-serif" fill="#000" stroke="#000" stroke-width="0.90">Epoch</text>
<g transform="translate(56.6,0) rotate(-90)"><text transform="scale(0.9951,1)" x="-685.10 -653.08 -634.26 -617.38 -586.38 -569.06 -551.51 -535.37 -502.64 -485.34 -456.70 -441.84 -422.53 -376.50" y="0.0" font-size="50.44" font-family="Liberation Sans, sans-serif" fill="#000" stroke="#000" stroke-width="0.90">Error rate (%)</text></g>
<rect x="717.0" y="82.0" width="316.2" height="193.8" rx="5.5" ry="5.5" fill="#fff" fill-opacity="0.8" stroke="#d3d3d3" stroke-width="3.3"/>
<line x1="727.9" y1="107.0" x2="795" y2="107.0" stroke="#ff0000" stroke-width="4.1"/>
<circle cx="761.4" cy="107.0" r="9.50" fill="#ff0000" stroke="#000" stroke-width="2.1"/>
<text transform="scale(0.9031,1)" x="906.19 928.17 956.38 981.91 993.48 1008.43 1029.83 1043.53 1070.25 1092.12 1118.67" y="117.9" font-size="33.59" font-family="Liberation Sans, sans-serif" fill="#000" stroke="#000" stroke-width="0.70">SGD (1-GPU)</text>
<line x1="727.9" y1="153.4" x2="795" y2="153.4" stroke="#008000" stroke-width="4.1"/>
<rect x="751.9" y="143.9" width="19.0" height="19.0" fill="#008000" stroke="#000" stroke-width="2.1"/>
<text transform="scale(0.9883,1)" x="827.77 846.76 855.97 875.88 895.30 921.34 932.79 951.22 974.35" y="163.9" font-size="33.59" font-family="Liberation Sans, sans-serif" fill="#000" stroke="#000" stroke-width="0.70">PipeDream</text>
<line x1="727.9" y1="200.0" x2="795" y2="200.0" stroke="#ffa500" stroke-width="4.1"/>
<polygon points="761.4,186.6 769.5,200.0 761.4,213.4 753.3,200.0" fill="#ffa500" stroke="#000" stroke-width="2.1" stroke-linejoin="miter"/>
<text transform="scale(0.9741,1)" x="840.10 861.33 881.53 900.98 918.40 935.54 946.60 967.93 977.53" y="210.9" font-size="33.59" font-family="Liberation Sans, sans-serif" fill="#000" stroke="#000" stroke-width="0.70">SpecTrain</text>
<line x1="727.9" y1="245.6" x2="795" y2="245.6" stroke="#0000ff" stroke-width="4.1"/>
<polygon points="761.4,236.1 770.9,255.1 751.9,255.1" fill="#0000ff" stroke="#000" stroke-width="2.1" stroke-linejoin="miter"/>
<text transform="scale(0.9812,1)" x="832.51 847.09 868.70 887.42 896.19 917.08 927.77 948.23 957.56 977.91" y="256.0" font-size="33.59" font-family="Liberation Sans, sans-serif" fill="#000" stroke="#000" stroke-width="0.70">TaylorPipe</text>
</svg>
</body></html>
